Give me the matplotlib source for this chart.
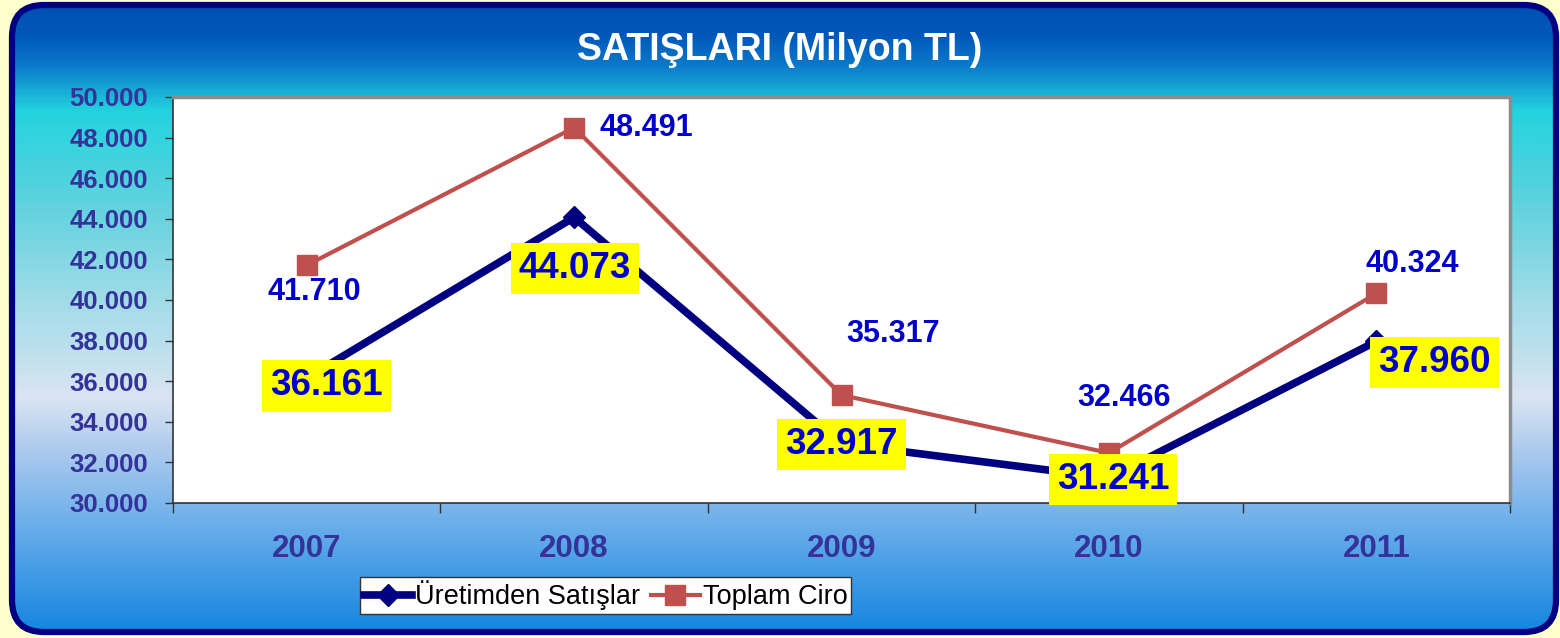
import numpy as np
import matplotlib
matplotlib.use("Agg")
import matplotlib.pyplot as plt
from matplotlib.patches import FancyBboxPatch
from matplotlib.colors import LinearSegmentedColormap

plt.rcParams['font.family'] = ['Liberation Sans', 'DejaVu Sans']

# ---- data ----
years = ["2007", "2008", "2009", "2010", "2011"]
uretim = [36161, 44073, 32917, 31241, 37960]
ciro = [41710, 48491, 35317, 32466, 40324]
uretim_labels = ["36.161", "44.073", "32.917", "31.241", "37.960"]
ciro_labels = ["41.710", "48.491", "35.317", "32.466", "40.324"]
yticks = [30000, 32000, 34000, 36000, 38000, 40000, 42000, 44000, 46000, 48000, 50000]
ytick_labels = ["30.000", "32.000", "34.000", "36.000", "38.000", "40.000",
                "42.000", "44.000", "46.000", "48.000", "50.000"]
title = "SATIŞLARI (Milyon TL)"
series_names = ["Üretimden Satışlar", "Toplam Ciro"]

W, H = 1560, 638
fig = plt.figure(figsize=(W / 100, H / 100), dpi=100, facecolor="#FFFFCC")

# ---- background rounded panel with vertical gradient ----
bg = fig.add_axes([0, 0, 1, 1], zorder=0)
bg.set_xlim(0, W)
bg.set_ylim(H, 0)
bg.axis("off")
stops = [(0.00, "#0050B4"), (30 / H, "#0058BA"), (60 / H, "#0A7ACA"),
         (107 / H, "#22D4DE"), (200 / H, "#5ED2DE"), (300 / H, "#A0DCE8"),
         (400 / H, "#DAE4F2"), (450 / H, "#B0CCEE"), (530 / H, "#6AAEEA"),
         (1.0, "#1686E0")]
cmap = LinearSegmentedColormap.from_list("bgc", stops)
grad = np.linspace(0, 1, 600).reshape(-1, 1)
panel = FancyBboxPatch((12, 5), 1544, 627, boxstyle="round,pad=0,rounding_size=32",
                       facecolor="none", edgecolor="#000080", linewidth=4.5,
                       transform=bg.transData, zorder=3)
im = bg.imshow(grad, cmap=cmap, aspect="auto", extent=[12, 1556, 632, 5],
               interpolation="bilinear", zorder=1)
clip = FancyBboxPatch((12, 5), 1544, 627, boxstyle="round,pad=0,rounding_size=32",
                      transform=bg.transData, facecolor="none", edgecolor="none")
bg.add_patch(clip)
im.set_clip_path(clip)
bg.add_patch(panel)

fig.text(0.5, 1 - 50 / H, title, ha="center", va="center", color="white",
         fontsize=27, fontweight="bold", zorder=5)

# ---- main axes ----
ax = fig.add_axes([173 / W, 1 - 503 / H, 1337 / W, 406 / H], zorder=2)
ax.set_facecolor("white")
x = np.arange(len(years))
ax.set_xlim(-0.5, len(years) - 0.5)
ax.set_ylim(30000, 50000)

ax.plot(x, uretim, color="#000080", lw=5.5, marker="D", markersize=11,
        markeredgecolor="#000080", markerfacecolor="#000080", zorder=3,
        label=series_names[0])
ax.plot(x, ciro, color="#C0504D", lw=3, marker="s", markersize=14,
        markeredgecolor="#C0504D", markerfacecolor="#C0504D", zorder=4,
        label=series_names[1])

ax.set_yticks(yticks)
ax.set_yticklabels(ytick_labels)
ax.set_xticks(x)
ax.set_xticklabels(years)
ax.set_xticks(np.arange(len(years) + 1) - 0.5, minor=True)
ax.tick_params(axis="y", length=6, width=1, color="#333333", pad=12,
               labelsize=18.5, labelcolor="#333399")
ax.tick_params(axis="x", which="major", length=0, pad=22, labelsize=22.5,
               labelcolor="#333399")
ax.tick_params(axis="x", which="minor", length=7, width=1, color="#333333")
for lab in ax.get_yticklabels() + ax.get_xticklabels():
    lab.set_fontweight("bold")

for s in ["left", "bottom"]:
    ax.spines[s].set_color("#333333")
    ax.spines[s].set_linewidth(1.2)
for s in ["top", "right"]:
    ax.spines[s].set_color("#8C8C8C")
    ax.spines[s].set_linewidth(2.5)

# data labels: Toplam Ciro (plain), offsets in pixels -> points
ciro_off = [(8, -27), (72, 0), (52, 61), (15, 55), (36, 29)]
for xi, v, t, (dx, dy) in zip(x, ciro, ciro_labels, ciro_off):
    ax.annotate(t, (xi, v), xytext=(dx * 0.72, dy * 0.72), textcoords="offset points",
                ha="center", va="center", fontsize=22, fontweight="bold",
                color="#0000CC", zorder=6)

uret_off = [(20, -8), (1, -51), (0, -1), (4, -2), (58, -21)]
for xi, v, t, (dx, dy) in zip(x, uretim, uretim_labels, uret_off):
    ax.annotate(t, (xi, v), xytext=(dx * 0.72, dy * 0.72), textcoords="offset points",
                ha="center", va="center", fontsize=26.5, fontweight="bold",
                color="#0000CC", zorder=6,
                bbox=dict(boxstyle="square,pad=0.22", facecolor="#FFFF00",
                          edgecolor="none"))

leg = fig.legend(loc="center", bbox_to_anchor=(605.5 / W, 1 - 595.5 / H), ncol=2,
                 frameon=True, fancybox=False, fontsize=19.5, handlelength=1.8,
                 handletextpad=0.1, columnspacing=0.4, borderpad=0.12,
                 borderaxespad=0, markerscale=1.0, framealpha=1.0)
leg.get_frame().set_edgecolor("#333333")
leg.get_frame().set_linewidth(1.0)
leg.get_frame().set_facecolor("white")
leg.set_zorder(6)

fig.savefig("out.png", dpi=100, facecolor=fig.get_facecolor())
